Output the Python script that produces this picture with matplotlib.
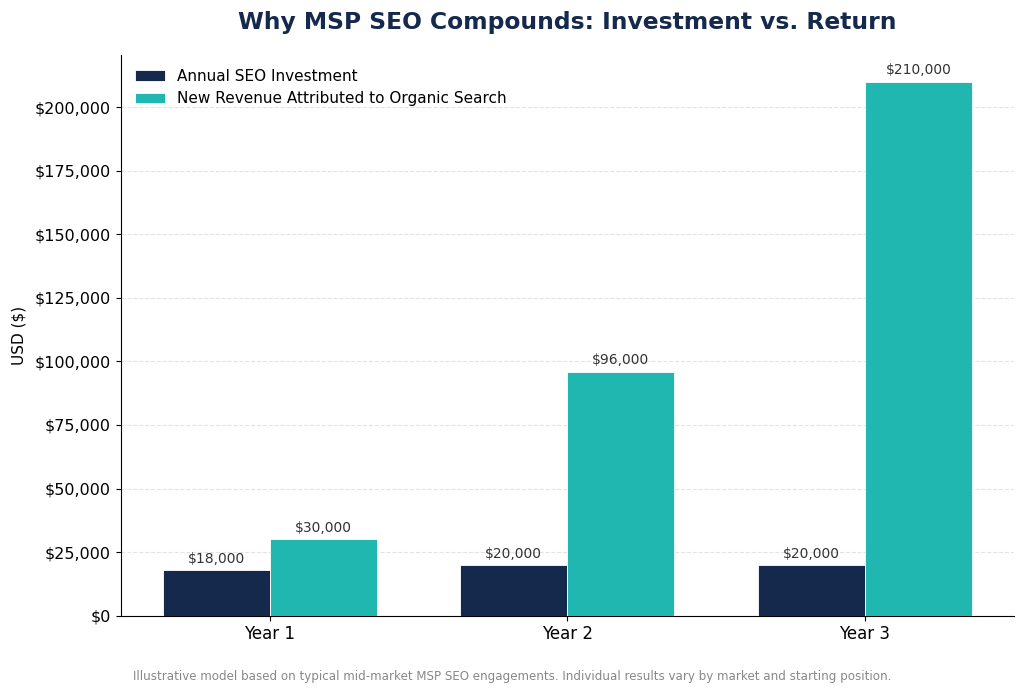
import numpy as np
import matplotlib.pyplot as plt
from matplotlib.ticker import FuncFormatter

# Chart data
years      = ['Year 1', 'Year 2', 'Year 3']
investment = [18000, 20000, 20000]
revenue    = [30000, 96000, 210000]

navy = '#14294b'
teal = '#20b7b0'

fig, ax = plt.subplots(figsize=(10.24, 6.95), dpi=100)
fig.subplots_adjust(left=0.118, right=0.99, top=0.921, bottom=0.114)

x = np.arange(len(years))
w = 0.36

b1 = ax.bar(x - w / 2, investment, w, color=navy, edgecolor='white',
            linewidth=0.6, label='Annual SEO Investment', zorder=3)
b2 = ax.bar(x + w / 2, revenue, w, color=teal, edgecolor='white',
            linewidth=0.6, label='New Revenue Attributed to Organic Search', zorder=3)

# Value labels
for bars in (b1, b2):
    for bar in bars:
        h = bar.get_height()
        ax.annotate(f'${h:,.0f}', (bar.get_x() + bar.get_width() / 2, h),
                    xytext=(0, 3), textcoords='offset points',
                    ha='center', va='bottom', fontsize=10, color='#333333')

ax.set_xticks(x)
ax.set_xticklabels(years, fontsize=12)
ax.set_xlim(-0.5, 2.5)
ax.set_ylim(0, 220500)
ax.set_yticks(np.arange(0, 200001, 25000))
ax.yaxis.set_major_formatter(FuncFormatter(lambda v, p: f'${v:,.0f}'))
ax.tick_params(axis='y', labelsize=11.5)
ax.set_ylabel('USD ($)', fontsize=11, labelpad=6)

ax.grid(axis='y', linestyle='--', color='#dddddd', alpha=0.8, zorder=0)
ax.spines['top'].set_visible(False)
ax.spines['right'].set_visible(False)

ax.legend(loc='upper left', frameon=False, fontsize=11)
ax.set_title('Why MSP SEO Compounds: Investment vs. Return',
             fontsize=16.8, fontweight='bold', color=navy, pad=19)

fig.text(0.5, 0.021, 'Illustrative model based on typical mid-market MSP SEO engagements. '
         'Individual results vary by market and starting position.',
         ha='center', fontsize=8.6, color='#888888')

plt.savefig('out.png', dpi=100)
